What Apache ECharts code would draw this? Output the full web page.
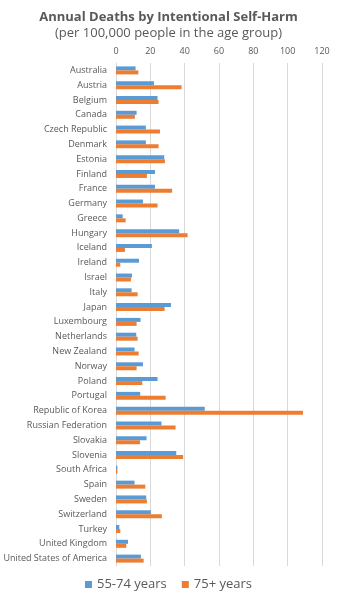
<!DOCTYPE html>
<html>
<head>
<meta charset="utf-8">
<script src="https://cdn.jsdelivr.net/npm/echarts@6/dist/echarts.min.js"></script>
<style>
  html, body { margin: 0; padding: 0; background: #fff; }
  #chart { width: 337px; height: 599px; }
</style>
</head>
<body>
<div id="chart"></div>
<script>
const countries = [
  'Australia', 'Austria', 'Belgium', 'Canada', 'Czech Republic', 'Denmark',
  'Estonia', 'Finland', 'France', 'Germany', 'Greece', 'Hungary', 'Iceland',
  'Ireland', 'Israel', 'Italy', 'Japan', 'Luxembourg', 'Netherlands',
  'New Zealand', 'Norway', 'Poland', 'Portugal', 'Republic of Korea',
  'Russian Federation', 'Slovakia', 'Slovenia', 'South Africa', 'Spain',
  'Sweden', 'Switzerland', 'Turkey', 'United Kingdom', 'United States of America'
];

// deaths per 100,000 people, ages 55-74
const age55to74 = [
  11.4, 22.1, 24.2, 12.0, 17.4, 17.4,
  28.1, 22.7, 22.7, 15.7, 3.9, 36.8, 20.9,
  13.4, 9.3, 9.1, 32.0, 14.3, 11.8,
  10.8, 15.7, 24.2, 14.1, 51.7,
  26.5, 17.8, 35.1, 0.8, 10.8,
  17.6, 20.3, 1.9, 7.0, 14.5
];

// deaths per 100,000 people, ages 75+
const age75plus = [
  13.0, 38.2, 24.8, 11.0, 25.6, 24.8,
  28.5, 18.0, 32.7, 24.2, 5.6, 41.7, 5.2,
  2.5, 8.7, 12.6, 28.3, 12.0, 12.6,
  13.2, 12.0, 15.3, 28.9, 108.9,
  34.7, 14.0, 39.1, 0.8, 17.1,
  18.0, 26.7, 2.5, 6.0, 16.1
];

const xTicks = [0, 20, 40, 60, 80, 100, 120];

const font = '"Open Sans", "Liberation Sans", sans-serif';
const chart = echarts.init(document.getElementById('chart'), null, { renderer: 'canvas' });

chart.setOption({
  animation: false,
  backgroundColor: '#ffffff',
  textStyle: { fontFamily: font },
  title: {
    left: 'center',
    top: 6,
    text: 'Annual Deaths by Intentional Self-Harm',
    subtext: '(per 100,000 people in the age group)',
    itemGap: 3,
    textStyle: { fontFamily: font, fontSize: 13, fontWeight: 'bold', color: '#595959' },
    subtextStyle: { fontFamily: font, fontSize: 13, color: '#595959' }
  },
  legend: {
    bottom: 3,
    left: 'center',
    itemWidth: 7,
    itemHeight: 7,
    itemGap: 15,
    icon: 'rect',
    textStyle: { fontFamily: font, fontSize: 13, color: '#595959' },
    data: ['55-74 years', '75+ years']
  },
  grid: { left: 116, right: 15, top: 63, bottom: 33, outerBoundsMode: 'none', containLabel: false },
  xAxis: {
    type: 'value',
    position: 'top',
    min: xTicks[0],
    max: xTicks[xTicks.length - 1],
    interval: 20,
    axisLine: { show: false },
    axisTick: { show: false },
    axisLabel: { fontFamily: font, fontSize: 9, color: '#595959', margin: 7 },
    splitLine: { lineStyle: { color: '#d9d9d9', width: 1 } }
  },
  yAxis: {
    type: 'category',
    inverse: true,
    data: countries,
    axisLine: { show: true, lineStyle: { color: '#d9d9d9' } },
    axisTick: { show: false },
    axisLabel: { fontFamily: font, fontSize: 9, color: '#595959', margin: 9, interval: 0 }
  },
  series: [
    {
      name: '55-74 years',
      type: 'bar',
      data: age55to74,
      barWidth: 4,
      barGap: '0%',
      itemStyle: { color: '#5b9bd5' }
    },
    {
      name: '75+ years',
      type: 'bar',
      data: age75plus,
      barWidth: 4,
      barGap: '0%',
      itemStyle: { color: '#ed7d31' }
    }
  ]
});
</script>
</body>
</html>
